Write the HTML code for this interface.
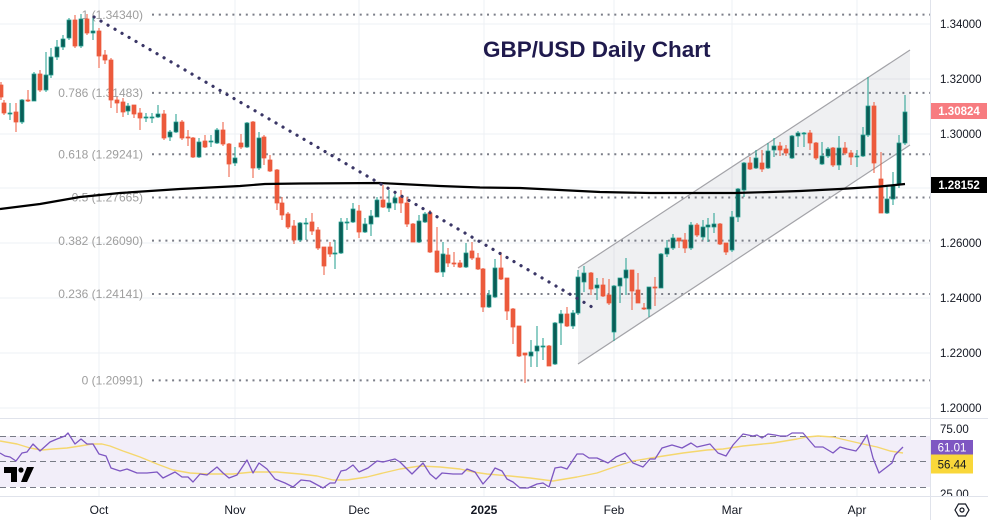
<!DOCTYPE html>
<html><head><meta charset="utf-8"><style>
html,body{margin:0;padding:0;background:#fff;}
svg{display:block;font-family:"Liberation Sans",sans-serif;}
</style></head><body>
<svg width="988" height="520" viewBox="0 0 988 520" xmlns="http://www.w3.org/2000/svg">
<rect width="988" height="520" fill="#fff"/>
<!-- grid -->
<g stroke="#eef0f4" stroke-width="1">
<path d="M0 24H930M0 79H930M0 134H930M0 188H930M0 243H930M0 298H930M0 353H930M0 408H930"/>
<path d="M99 0V496M235 0V496M359 0V496M484 0V496M614 0V496M732 0V496M857 0V496"/>
</g>
<!-- channel fill -->
<path d="M578 268L910 50L910 145L578 364Z" fill="#7d8090" fill-opacity="0.12"/>
<!-- fib lines -->
<g stroke="#7b7e88" stroke-width="2" stroke-dasharray="2 4.7">
<path d="M152 14.6H930M152 92.9H930M152 154.3H930M152 197.5H930M152 240.6H930M152 294H930M152 380.4H930"/>
</g>
<g fill="#9e9e9e" font-size="12" text-anchor="end">
<text x="143" y="18.8">1 (1.34340)</text>
<text x="143" y="97.1">0.786 (1.31483)</text>
<text x="143" y="158.5">0.618 (1.29241)</text>
<text x="143" y="201.7">0.5 (1.27665)</text>
<text x="143" y="244.8">0.382 (1.26090)</text>
<text x="143" y="298.2">0.236 (1.24141)</text>
<text x="143" y="384.6">0 (1.20991)</text>
</g>
<!-- channel lines -->
<g stroke="#a3a3a8" stroke-width="1.2" fill="none">
<path d="M578 268L910 50"/><path d="M578 364L910 145"/>
</g>
<!-- candles -->
<path fill="none" stroke="#1f9e8e" stroke-width="1" d="M10 103V120 M22 99V124 M34 72V101 M46 52V92 M51 48V78 M57 40V60 M63 35V50 M69 18V40 M81 14V48 M93 17V40 M128 103V115 M146 113V122 M152 113V123 M158 105V118 M170 130V141 M176 114V133 M199 138V158 M211 135V147 M217 128V144 M235 147V166 M247 122V148 M259 132V170 M300 222V242 M306 218V240 M335 240V269 M341 218V254 M347 218V230 M353 203V223 M365 218V233 M371 210V236 M377 197V217 M389 190V212 M395 193V210 M419 215V243 M425 212V223 M443 242V277 M466 243V268 M489 290V308 M495 259V298 M531 340V367 M537 326V367 M543 338V360 M555 322V365 M561 310V345 M573 310V329 M578 270V315 M584 266V292 M597 278V300 M614 285V341 M620 278V303 M626 258V295 M649 287V317 M661 253V288 M667 240V257 M673 234V250 M691 222V250 M703 220V240 M708 218V242 M714 213V233 M732 211V252 M738 188V222 M744 162V197 M756 150V169 M768 143V169 M774 138V157 M792 135V159 M798 131V147 M804 132V147 M822 142V165 M828 147V158 M839 136V170 M857 150V167 M863 127V157 M868 77V137 M887 185V214 M893 172V205 M899 135V188 M905 95V145"/>
<path fill="none" stroke="#ec5a3c" stroke-width="1" d="M1 82V100 M4 100V115 M16 103V132 M28 90V102 M40 70V92 M75 15V48 M87 14V35 M99 28V68 M105 50V64 M111 58V108 M117 97V113 M123 98V117 M134 105V118 M140 108V130 M164 110V140 M182 120V140 M188 130V146 M193 137V158 M205 135V148 M223 122V146 M229 143V177 M241 134V149 M253 121V178 M264 135V165 M270 155V172 M277 169V210 M282 197V220 M288 212V229 M294 220V244 M312 213V235 M318 227V250 M324 247V275 M330 242V257 M359 205V238 M383 185V208 M401 190V213 M407 197V227 M413 223V242 M430 210V253 M437 227V273 M448 248V267 M454 252V267 M460 260V268 M472 242V260 M478 253V270 M483 268V312 M501 252V280 M507 278V320 M513 308V344 M519 326V357 M525 353V383 M549 345V366 M567 307V327 M591 272V295 M603 278V297 M609 279V305 M632 270V310 M638 273V303 M644 303V310 M655 277V306 M679 238V248 M685 233V253 M697 223V237 M720 223V245 M726 243V255 M750 157V170 M762 150V172 M780 142V156 M786 145V156 M810 130V150 M816 142V160 M833 147V167 M845 142V155 M851 150V165 M874 102V173 M881 152V213"/>
<path fill="#0b5d57" stroke="#1f9e8e" stroke-width="0.7" d="M8 113h4V114h-4z M20 100h4V122h-4z M32 74h4V101h-4z M44 75h4V90h-4z M49 57h4V75h-4z M55 47h4V57h-4z M61 39h4V47h-4z M67 20h4V38h-4z M79 19h4V46h-4z M91 31h4V33h-4z M126 106h4V111h-4z M144 117h4V118h-4z M150 117h4V118h-4z M156 114h4V117h-4z M168 132h4V137h-4z M174 122h4V132h-4z M197 142h4V157h-4z M209 141h4V142h-4z M215 130h4V143h-4z M233 158h4V163h-4z M245 123h4V147h-4z M257 138h4V168h-4z M298 223h4V240h-4z M304 223h4V224h-4z M333 253h4V254h-4z M339 222h4V253h-4z M345 222h4V223h-4z M351 209h4V222h-4z M363 224h4V232h-4z M369 216h4V224h-4z M375 200h4V217h-4z M387 203h4V208h-4z M393 198h4V203h-4z M417 221h4V242h-4z M423 214h4V222h-4z M441 254h4V272h-4z M464 253h4V267h-4z M487 295h4V307h-4z M493 268h4V297h-4z M529 352h4V356h-4z M535 346h4V351h-4z M541 346h4V347h-4z M553 323h4V364h-4z M559 314h4V323h-4z M571 313h4V326h-4z M576 277h4V313h-4z M582 273h4V282h-4z M595 285h4V288h-4z M612 286h4V332h-4z M618 278h4V286h-4z M624 270h4V278h-4z M647 287h4V309h-4z M659 254h4V288h-4z M665 248h4V254h-4z M671 238h4V248h-4z M689 225h4V248h-4z M701 227h4V237h-4z M706 225h4V227h-4z M712 224h4V227h-4z M730 217h4V250h-4z M736 189h4V217h-4z M742 163h4V190h-4z M754 158h4V168h-4z M766 151h4V168h-4z M772 146h4V150h-4z M790 136h4V158h-4z M796 133h4V136h-4z M802 133h4V134h-4z M820 156h4V164h-4z M826 149h4V156h-4z M837 148h4V165h-4z M855 156h4V157h-4z M861 135h4V156h-4z M866 106h4V135h-4z M885 199h4V213h-4z M891 185h4V199h-4z M897 143h4V185h-4z M903 112h4V143h-4z"/>
<path fill="#ec5a3c" stroke="#ec5a3c" stroke-width="0.7" d="M-1 85h4V97h-4z M2 103h4V113h-4z M14 112h4V122h-4z M26 100h4V101h-4z M38 74h4V90h-4z M73 20h4V46h-4z M85 19h4V33h-4z M97 31h4V56h-4z M103 55h4V60h-4z M109 60h4V100h-4z M115 100h4V103h-4z M121 102h4V112h-4z M132 105h4V114h-4z M138 113h4V118h-4z M162 114h4V138h-4z M180 122h4V138h-4z M186 137h4V138h-4z M191 138h4V157h-4z M203 141h4V147h-4z M221 130h4V144h-4z M227 144h4V164h-4z M239 143h4V147h-4z M251 122h4V168h-4z M262 137h4V158h-4z M268 160h4V171h-4z M275 170h4V203h-4z M280 203h4V215h-4z M286 214h4V227h-4z M292 226h4V240h-4z M310 222h4V231h-4z M316 230h4V248h-4z M322 247h4V266h-4z M328 247h4V254h-4z M357 211h4V232h-4z M381 200h4V207h-4z M399 197h4V203h-4z M405 203h4V224h-4z M411 224h4V242h-4z M428 213h4V252h-4z M435 251h4V272h-4z M446 255h4V263h-4z M452 263h4V264h-4z M458 263h4V267h-4z M470 251h4V258h-4z M476 258h4V269h-4z M481 269h4V307h-4z M499 268h4V279h-4z M505 278h4V311h-4z M511 309h4V327h-4z M517 326h4V356h-4z M523 353h4V355h-4z M547 346h4V366h-4z M565 314h4V326h-4z M589 273h4V289h-4z M601 285h4V296h-4z M607 295h4V303h-4z M630 270h4V291h-4z M636 290h4V303h-4z M642 308h4V309h-4z M653 287h4V288h-4z M677 238h4V241h-4z M683 240h4V248h-4z M695 225h4V235h-4z M718 224h4V244h-4z M724 243h4V252h-4z M748 163h4V169h-4z M760 163h4V169h-4z M778 146h4V150h-4z M784 149h4V153h-4z M808 133h4V143h-4z M814 143h4V158h-4z M831 148h4V165h-4z M843 148h4V153h-4z M849 153h4V157h-4z M872 106h4V163h-4z M879 179h4V213h-4z"/>
<!-- 200 MA -->
<polyline fill="none" stroke="#000" stroke-width="2.2" stroke-linejoin="round" points="0,209 40,204 80,197 120,193 180,189 240,186 265,184 300,183.5 380,183 400,184 440,186 480,187.5 520,188 560,190 600,192 650,193 735,193 770,192 800,191 840,189 880,186.5 905,184"/>
<!-- dotted trendline -->
<path d="M94 17L592 307" stroke="#3a3666" stroke-width="3.2" stroke-linecap="round" stroke-dasharray="0.1 8" fill="none"/>
<!-- title -->
<text x="483" y="57" font-size="22.5" font-weight="bold" fill="#1f1a4d">GBP/USD Daily Chart</text>
<!-- axis separators -->
<path d="M930.5 0V520" stroke="#e0e3eb" stroke-width="1"/>
<path d="M0 418.5H988" stroke="#e0e3eb" stroke-width="1"/>
<!-- RSI panel -->
<rect x="0" y="436" width="930" height="51" fill="#f2eef9"/>
<g stroke="#787b86" stroke-width="1" stroke-dasharray="6 4">
<path d="M0 436.5H930M0 461.5H930M0 487.5H930"/>
</g>
<polyline fill="none" stroke="#f5d76e" stroke-width="1.4" stroke-linejoin="round" points="0,441 17,444 30,448 42,450 53,449 67,448 80,446 92,444 102,444 110,446 123,451 140,457 157,464 173,470 190,473 207,474 233,474 253,472 277,472 300,474 317,476 333,480 347,480 367,477 383,473 400,469 420,466 440,467 460,469 473,472 487,474 510,476 530,478 553,481 577,477 597,473 617,466 633,461 657,457 683,453 707,450 723,449 743,446 773,443 797,439 807,437 818,436 833,437 850,441 863,444 877,447 890,451 903,453"/>
<polyline fill="none" stroke="#7e57c2" stroke-width="1.3" stroke-linejoin="round" points="0,453 5,456 10,457 16,461 22,453 27,452 33,444 40,451 50,442 57,439 65,436 68,433 75,444 81,439 87,444 93,444 99,454 106,456 111,468 120,471 127,469 137,473 147,473 157,472 163,478 175,472 182,477 188,477 193,482 200,474 207,475 217,467 223,473 229,478 237,475 247,460 253,473 259,463 267,469 275,479 285,483 293,487 301,480 310,481 323,488 330,483 335,483 341,471 346,470 353,465 359,472 368,468 377,461 383,462 395,459 400,462 412,474 423,463 430,474 436,479 442,473 453,474 462,474 467,469 475,472 483,484 490,476 495,468 502,471 507,479 513,482 520,488 528,488 537,484 543,483 549,487 555,468 561,467 567,469 577,454 583,454 589,458 597,458 608,463 616,457 625,453 633,463 643,467 650,459 655,459 662,448 672,445 682,448 691,443 697,447 710,444 718,453 726,456 733,445 743,434 753,436 757,435 762,438 768,434 775,435 780,436 787,436 792,433 803,433 815,447 823,447 833,453 840,447 847,449 856,451 860,446 867,435 873,458 879,473 892,463 895,455 903,447"/>
<!-- TV logo -->
<g fill="#000">
<path d="M4 467h13v15h-6v-9h-7z"/>
<circle cx="21" cy="470" r="2.6"/>
<path d="M27 467h7l-7 15h-6z"/>
</g>
<!-- price axis labels -->
<g fill="#131722" font-size="11.5">
<text x="940" y="28">1.34000</text>
<text x="940" y="83">1.32000</text>
<text x="940" y="138">1.30000</text>
<text x="940" y="247">1.26000</text>
<text x="940" y="302">1.24000</text>
<text x="940" y="357">1.22000</text>
<text x="940" y="412">1.20000</text>
<text x="940" y="433">75.00</text>
<text x="940" y="498">25.00</text>
</g>
<rect x="931" y="103" width="56" height="16" fill="#f77c80"/>
<text x="959" y="115" font-size="11.5" font-weight="bold" fill="#fff" text-anchor="middle">1.30824</text>
<rect x="931" y="177" width="56" height="16" fill="#000"/>
<text x="959" y="189" font-size="11.5" font-weight="bold" fill="#fff" text-anchor="middle">1.28152</text>
<rect x="931" y="440" width="42" height="14.5" fill="#7e57c2"/>
<text x="952" y="451.5" font-size="11.5" fill="#fff" text-anchor="middle">61.01</text>
<rect x="931" y="454.5" width="42" height="19" fill="#f9d73a"/>
<text x="952" y="468.5" font-size="11.5" fill="#131722" text-anchor="middle">56.44</text>
<!-- x axis area -->
<rect x="0" y="497" width="988" height="23" fill="#fff"/>
<path d="M0 496.5H988" stroke="#e0e3eb" stroke-width="1"/>
<path d="M930.5 496V520" stroke="#e0e3eb" stroke-width="1"/>
<g fill="#131722" font-size="12" text-anchor="middle">
<text x="99" y="514">Oct</text>
<text x="235" y="514">Nov</text>
<text x="359" y="514">Dec</text>
<text x="484" y="514" font-weight="bold">2025</text>
<text x="614" y="514">Feb</text>
<text x="732" y="514">Mar</text>
<text x="857" y="514">Apr</text>
</g>
<!-- settings icon -->
<path d="M955 510L958.5 504h7L969 510l-3.5 6h-7z" fill="none" stroke="#131722" stroke-width="1.2"/>
<circle cx="962" cy="510" r="2" fill="none" stroke="#131722" stroke-width="1.2"/>
</svg>
</body></html>
